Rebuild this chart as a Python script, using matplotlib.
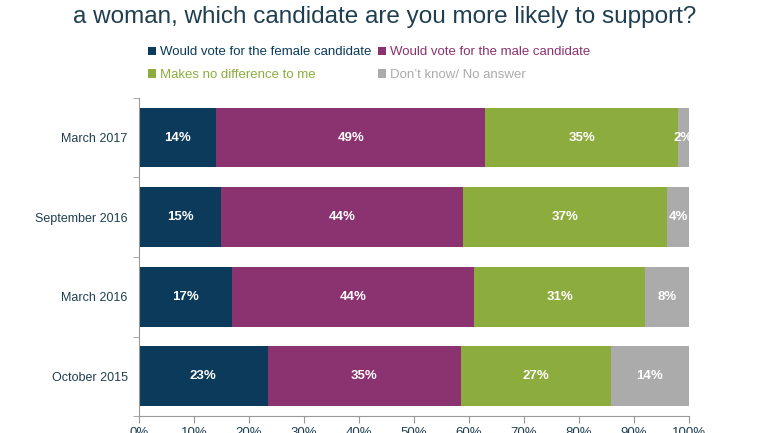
import numpy as np
import matplotlib.pyplot as plt

plt.rcParams['font.family'] = ['Liberation Sans', 'DejaVu Sans']

# datos
periodos = ['March 2017', 'September 2016', 'March 2016', 'October 2015']
mujer    = [14, 15, 17, 23.4]
hombre   = [49, 44, 44, 35.1]
igual    = [35, 37, 31, 27.3]
nsnc     = [2, 4, 8, 14.2]
series   = ['Would vote for the female candidate', 'Would vote for the male candidate',
            'Makes no difference to me', 'Don\u2019t know/ No answer']
colores  = ['#0B3A5A', '#8B3270', '#8DAC3E', '#ABABAB']
ticks_x  = [0, 10, 20, 30, 40, 50, 60, 70, 80, 90, 100]

fig = plt.figure(figsize=(7.7, 4.33), dpi=100)
ax = fig.add_axes([0.1805, 0.039, 0.7143, 0.735])

y = np.arange(len(periodos))
izq = np.zeros(len(periodos))
datos = [mujer, hombre, igual, nsnc]
handles = []
for vals, nombre, col in zip(datos, series, colores):
    vals = np.array(vals, dtype=float)
    b = ax.barh(y, vals, left=izq, height=0.75, color=col, label=nombre)
    handles.append(b)
    for yi, l, v in zip(y, izq, vals):
        ax.text(l + v / 2, yi, '%.0f%%' % v, ha='center', va='center',
                color='white', fontsize=9.5, fontweight='bold')
    izq = izq + vals

ax.set_ylim(3.5, -0.5)
ax.set_xlim(0, 100)
ax.set_yticks(y)
ax.set_yticklabels(periodos, fontsize=9, color='#1F3F50')
ax.set_yticks(np.arange(-0.5, 4.0, 1.0), minor=True)
ax.tick_params(axis='y', which='major', length=0, pad=8)
ax.tick_params(axis='y', which='minor', length=4, color='#999999', direction='out')
ax.set_xticks(ticks_x)
ax.set_xticklabels(['%d%%' % t for t in ticks_x], fontsize=9.5, color='#1F3F50')
ax.tick_params(axis='x', length=5, color='#999999', pad=3)
for s in ['top', 'right']:
    ax.spines[s].set_visible(False)
for s in ['left', 'bottom']:
    ax.spines[s].set_color('#999999')

fig.text(0.5, 0.948, 'a woman, which candidate are you more likely to support?',
         ha='center', va='baseline', fontsize=17.5, color='#1F3F50')

# orden por filas: matplotlib llena por columnas
orden = [0, 2, 1, 3]
leg = fig.legend(handles=[handles[i] for i in orden], labels=[series[i] for i in orden],
                 loc='upper left', ncol=2,
                 bbox_to_anchor=(0.186, 0.905), frameon=False, fontsize=9.5,
                 handlelength=0.6, handleheight=0.6, handletextpad=0.3,
                 columnspacing=0.5, labelspacing=0.8, borderaxespad=0)
for t, i in zip(leg.get_texts(), orden):
    t.set_color(colores[i])

plt.savefig('out.png', dpi=100)
